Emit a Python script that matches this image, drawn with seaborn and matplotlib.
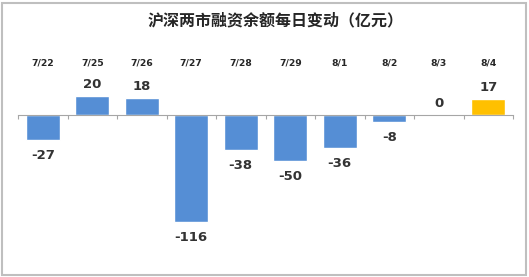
import matplotlib
matplotlib.use("Agg")
import matplotlib.pyplot as plt
import seaborn as sns
import pandas as pd
from matplotlib.patches import Rectangle

categories = ["7/22", "7/25", "7/26", "7/27", "7/28", "7/29", "8/1", "8/2", "8/3", "8/4"]
values = [-27, 20, 18, -116, -38, -50, -36, -8, 0, 17]
bar_colors = ["#558ED5"] * 9 + ["#FFC000"]
title = "沪深两市融资余额每日变动（亿元）"

sns.set_theme(style="white")
plt.rcParams['font.family'] = ['DejaVu Sans', 'Noto Sans CJK SC']

W, H = 529, 277
fig = plt.figure(figsize=(W / 100, H / 100), dpi=100)
fig.patch.set_facecolor("white")

# axes: x 18..513 px, zero at y=114.5 px
left, right = 18, 513
top_px, bot_px = 72, 262
ax = fig.add_axes([left / W, (H - bot_px) / H, (right - left) / W, (bot_px - top_px) / H])
scale = 0.927  # px per unit
ymax = (114.5 - top_px) / scale
ymin = -(bot_px - 114.5) / scale

df = pd.DataFrame({"date": categories, "value": values})
sns.barplot(data=df, x="date", y="value", hue="date", palette=bar_colors,
            legend=False, width=0.69, saturation=1, ax=ax)

ax.set_xlim(-0.5, len(categories) - 0.5)
ax.set_ylim(ymin, ymax)
ax.set_xlabel("")
ax.set_ylabel("")
ax.set_yticks([])

for s in ["top", "left", "right"]:
    ax.spines[s].set_visible(False)
ax.spines["bottom"].set_position(("data", 0))
ax.spines["bottom"].set_color("#A6A6A6")
ax.spines["bottom"].set_linewidth(0.8)

ax.set_xticks(range(len(categories)))
ax.set_xticklabels(categories)
ax.tick_params(axis="x", which="major", length=0, labelbottom=False, labeltop=True,
               top=False, bottom=False, pad=3, labelsize=6.7, labelcolor="#262626")
for lbl in ax.get_xticklabels():
    lbl.set_fontweight("bold")
ax.set_xticks([i - 0.5 for i in range(len(categories) + 1)], minor=True)
ax.tick_params(axis="x", which="minor", bottom=True, top=False, length=3,
               width=0.8, color="#A6A6A6", direction="out")

for cont in ax.containers:
    v = cont.datavalues[0]
    ax.bar_label(cont, fmt="%d", padding=(6.5 if v < 0 else 3.5), fontsize=9.5,
                 fontweight="bold", color="#333333")

fig.text(276 / W, 1 - 20 / H, title, ha="center", va="center", fontsize=11.5,
         fontweight="bold", color="#262626",
         family=["Noto Sans CJK SC", "DejaVu Sans"])

fig.patches.append(Rectangle((2 / W, 2 / H), (W - 5) / W, (H - 5) / H,
                             transform=fig.transFigure, fill=False,
                             edgecolor="#BFBFBF", linewidth=1.5))

fig.savefig("out.png", dpi=100)
